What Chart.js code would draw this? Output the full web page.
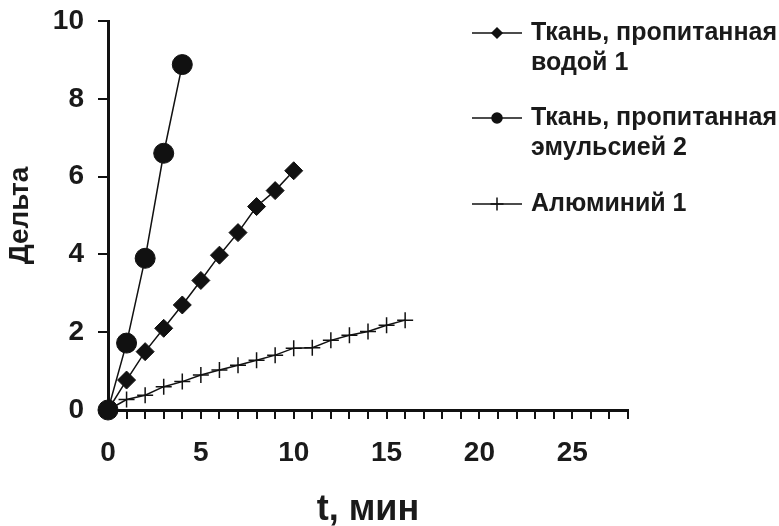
<!DOCTYPE html>
<html>
<head>
<meta charset="utf-8">
<script src="https://cdn.jsdelivr.net/npm/chart.js@4"></script>
<style>
  body { margin: 0; background: #fff; }
  #wrap { width: 779px; height: 526px; }
</style>
</head>
<body>
<div id="wrap"><canvas id="deltaChart" width="779" height="526"></canvas></div>
<script>
// data
const waterT = [0, 1, 2, 3, 4, 5, 6, 7, 8, 9, 10];
const waterDelta = [0, 0.77, 1.5, 2.1, 2.7, 3.33, 3.98, 4.56, 5.23, 5.64, 6.15];

const emulsionT = [0, 1, 2, 3, 4];
const emulsionDelta = [0, 1.72, 3.9, 6.6, 8.88];

const aluminumT = [0, 1, 2, 3, 4, 5, 6, 7, 8, 9, 10, 11, 12, 13, 14, 15, 16];
const aluminumDelta = [0, 0.27, 0.38, 0.6, 0.73, 0.9, 1.03, 1.15, 1.28, 1.41, 1.59, 1.6, 1.79, 1.92, 2.02, 2.18, 2.31];

const seriesNames = [
    ['Ткань, пропитанная', 'водой 1'],
    ['Ткань, пропитанная', 'эмульсией 2'],
    ['Алюминий 1']
];
const xLabelTicks = [0, 5, 10, 15, 20, 25];
const xMax = 28;
const yTickStep = 2;
const yMax = 10;

const font = 'Liberation Sans, Arial, sans-serif';

function pairs(xs, ys) {
    return xs.map((x, i) => ({ x: x, y: ys[i] }));
}

// legend drawn next to the plot like the original
const sideLegend = {
    id: 'sideLegend',
    afterDraw(chart) {
        const ctx = chart.ctx;
        const rows = [33, 118, 204];
        ctx.save();
        chart.data.datasets.forEach((ds, i) => {
            const y = rows[i];
            ctx.strokeStyle = '#111';
            ctx.lineWidth = 1.5;
            ctx.beginPath();
            ctx.moveTo(472, y);
            ctx.lineTo(522, y);
            ctx.stroke();
            ctx.fillStyle = '#111';
            Chart.helpers.drawPoint(ctx, {
                pointStyle: ds.pointStyle,
                radius: ds.pointStyle === 'cross' ? 6.5 : 5,
                rotation: 0,
                borderWidth: 1.5
            }, 497, y);
            ctx.fillStyle = '#1a1a1a';
            ctx.font = 'bold 25px ' + font;
            ctx.textBaseline = 'middle';
            ctx.textAlign = 'left';
            seriesNames[i].forEach((line, j) => {
                ctx.fillText(line, 531, y + j * 30);
            });
        });
        ctx.restore();
    }
};

const ctx = document.getElementById('deltaChart').getContext('2d');
const deltaChart = new Chart(ctx, {
    type: 'line',
    data: {
        datasets: [{
            label: seriesNames[0].join(' '),
            data: pairs(waterT, waterDelta),
            borderColor: '#111',
            backgroundColor: '#111',
            borderWidth: 1.5,
            pointStyle: 'rectRot',
            pointRadius: 9,
            pointBorderWidth: 1,
            clip: false
        }, {
            label: seriesNames[1].join(' '),
            data: pairs(emulsionT, emulsionDelta),
            borderColor: '#111',
            backgroundColor: '#111',
            borderWidth: 1.5,
            pointStyle: 'circle',
            pointRadius: 10,
            pointBorderWidth: 1,
            clip: false
        }, {
            label: seriesNames[2][0],
            data: pairs(aluminumT, aluminumDelta),
            borderColor: '#111',
            backgroundColor: '#111',
            borderWidth: 1.5,
            pointStyle: 'cross',
            pointRadius: 8,
            pointBorderWidth: 1.5,
            clip: false
        }]
    },
    options: {
        responsive: false,
        animation: false,
        layout: { padding: { top: 21, right: 151, left: 0, bottom: 0 } },
        plugins: {
            legend: { display: false },
            tooltip: { enabled: false }
        },
        scales: {
            x: {
                type: 'linear',
                min: 0,
                max: xMax,
                afterFit: (scale) => {
                    scale.height = 116;
                    scale.paddingLeft = 0;
                    scale.paddingRight = 0;
                },
                border: { display: true, color: '#111', width: 3 },
                grid: { drawOnChartArea: false, color: '#111', lineWidth: 2, tickLength: 9 },
                ticks: {
                    stepSize: 1,
                    autoSkip: false,
                    maxRotation: 0,
                    padding: 17,
                    color: '#1a1a1a',
                    font: { family: font, size: 28, weight: 'bold' },
                    callback: (v) => xLabelTicks.includes(v) ? String(v) : ''
                },
                title: {
                    display: true,
                    text: 't, мин',
                    color: '#1a1a1a',
                    font: { family: font, size: 36, weight: 'bold', lineHeight: 1 },
                    padding: { top: 0, bottom: -2 }
                }
            },
            y: {
                min: 0,
                max: yMax,
                afterFit: (scale) => {
                    scale.width = 108;
                    scale.paddingTop = 0;
                    scale.paddingBottom = 0;
                },
                border: { display: true, color: '#111', width: 3 },
                grid: { drawOnChartArea: false, color: '#111', lineWidth: 2, tickLength: 10 },
                ticks: {
                    stepSize: yTickStep,
                    padding: 14,
                    color: '#1a1a1a',
                    font: { family: font, size: 28, weight: 'bold' }
                },
                title: {
                    display: true,
                    text: 'Дельта',
                    color: '#1a1a1a',
                    font: { family: font, size: 28, weight: 'bold' },
                    padding: { top: 3, bottom: 0 }
                }
            }
        }
    },
    plugins: [sideLegend]
});
</script>
</body>
</html>
